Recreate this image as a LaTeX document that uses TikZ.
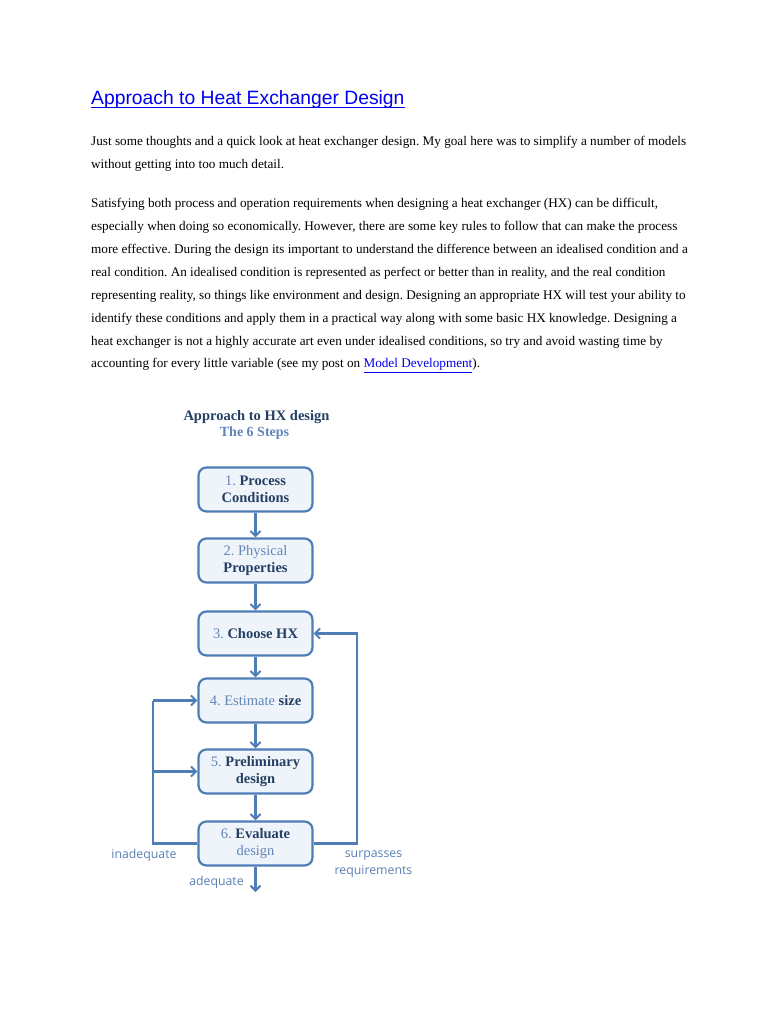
\documentclass[tikz,border=0pt]{standalone}
\usepackage{fontspec}
\setmainfont{Liberation Serif}
\newfontfamily\titlefont{Liberation Sans}
\newfontfamily\labelfont{Open Sans}
\usetikzlibrary{arrows.meta}
\frenchspacing
\definecolor{linkblue}{HTML}{0000EE}
\definecolor{boxline}{HTML}{4F7DB5}
\definecolor{boxfill}{HTML}{EFF4FA}
\definecolor{darktxt}{HTML}{233F63}
\definecolor{lighttxt}{HTML}{6085B8}
\definecolor{lbltxt}{HTML}{5A80B4}
\begin{document}
\begin{tikzpicture}[x=1pt,y=-1pt,
  bodyline/.style={anchor=base west,inner sep=0pt,font=\fontsize{13.2}{15}\selectfont,text=black},
  stepbox/.style={draw=boxline,line width=2.2pt,fill=boxfill,rounded corners=8pt,minimum width=114pt,minimum height=44pt,align=center,inner sep=0pt,font=\fontsize{14.5}{17}\selectfont,text=darktxt},
  flow/.style={draw=boxline,line width=2.2pt,-{Straight Barb[length=5pt,width=10pt,line width=2pt]}},
  loopline/.style={draw=boxline,line width=2.2pt},
  lbl/.style={inner sep=0pt,anchor=base,font=\labelfont\fontsize{12.3}{16}\selectfont,text=lbltxt}]
\useasboundingbox[fill=white] (0,0) rectangle (768,1024);

% page title
\node[anchor=base west,inner sep=0pt,text=linkblue,font=\titlefont\fontsize{19.3}{22}\selectfont] (title) at (91,104.5) {Approach to Heat Exchanger Design};
\draw[linkblue,line width=1.2pt] ([yshift=-2.8pt]title.base west) -- ([yshift=-2.8pt]title.base east);

% paragraph 1
\node[bodyline] (p1a) at (91,146) {Just some thoughts and a quick look at heat exchanger design. My goal here was to simplify a number of models};
\node[bodyline] (p1b) at (91,168.5) {without getting into too much detail.};

% paragraph 2
\node[bodyline] (p2a) at (91,208) {Satisfying both process and operation requirements when designing a heat exchanger (HX) can be difficult,};
\node[bodyline] (p2b) at (91,231) {especially when doing so economically. However, there are some key rules to follow that can make the process};
\node[bodyline] (p2c) at (91,253.5) {more effective. During the design its important to understand the difference between an idealised condition and a};
\node[bodyline] (p2d) at (91,276.5) {real condition. An idealised condition is represented as perfect or better than in reality, and the real condition};
\node[bodyline] (p2e) at (91,299.5) {representing reality, so things like environment and design. Designing an appropriate HX will test your ability to};
\node[bodyline] (p2f) at (91,322) {identify these conditions and apply them in a practical way along with some basic HX knowledge. Designing a};
\node[bodyline] (p2g) at (91,345) {heat exchanger is not a highly accurate art even under idealised conditions, so try and avoid wasting time by};
\node[bodyline] (p2h) at (91,367.5) {accounting for every little variable (see my post on \textcolor{linkblue}{\underline{Model Development}}).};

% diagram title
\node[inner sep=0pt,anchor=base,font=\bfseries\fontsize{14.5}{17}\selectfont,text=darktxt] (dtitle) at (256.5,420) {Approach to HX design};
\node[inner sep=0pt,anchor=base,font=\bfseries\fontsize{14}{17}\selectfont,text=lighttxt] (dsub) at (254.5,436) {The 6 Steps};

% steps
\node[stepbox] (s1) at (255.5,489.5) {\textcolor{lighttxt}{1.} \textbf{Process}\\\textbf{Conditions}};
\node[stepbox] (s2) at (255.5,560.5) {\textcolor{lighttxt}{2. Physical}\\\textbf{Properties}};
\node[stepbox] (s3) at (255.5,633.5) {\textcolor{lighttxt}{3.} \textbf{Choose HX}};
\node[stepbox] (s4) at (255.5,700.5) {\textcolor{lighttxt}{4. Estimate} \textbf{size}};
\node[stepbox] (s5) at (255.5,771.5) {\textcolor{lighttxt}{5.} \textbf{Preliminary}\\\textbf{design}};
\node[stepbox] (s6) at (255.5,843.5) {\textcolor{lighttxt}{6.} \textbf{Evaluate}\\\textcolor{lighttxt}{design}};

\coordinate (out) at (255.5,892);
\coordinate (lb) at (153,843.5);
\coordinate (lt) at (153,700.5);
\coordinate (lm) at (153,771.5);
\coordinate (rb) at (357,843.5);
\coordinate (rt) at (357,633.5);

\draw[flow] (s1) -- (s2);
\draw[flow] (s2) -- (s3);
\draw[flow] (s3) -- (s4);
\draw[flow] (s4) -- (s5);
\draw[flow] (s5) -- (s6);
\draw[flow] (s6) -- (out);

\draw[loopline,line join=miter] (s6.west) -- (lb) -- (lt);
\draw[flow] (lt) -- (s4.west);
\draw[flow] (lm) -- (s5.west);
\draw[flow,line join=miter] (s6.east) -- (rb) -- (rt) -- (s3.east);

% labels
\node[lbl] (linad) at (144,858) {inadequate};
\node[lbl] (lsur) at (373.5,857) {surpasses};
\node[lbl] (lreq) at (373.5,874) {requirements};
\node[lbl] (lad) at (216.5,885) {adequate};
\end{tikzpicture}
\end{document}
